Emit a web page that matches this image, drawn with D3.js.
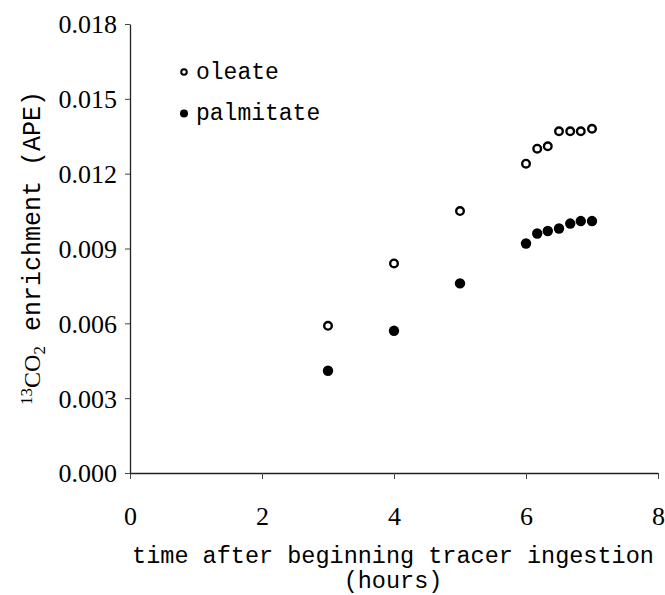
<!DOCTYPE html>
<html>
<head>
<meta charset="utf-8">
<script src="https://cdn.jsdelivr.net/npm/d3@7"></script>
<style>
  body { margin: 0; background: #fff; }
</style>
</head>
<body>
<div id="chart"></div>
<script>
// hours after beginning tracer ingestion
const hours = [3, 4, 5, 6, 6.17, 6.33, 6.5, 6.67, 6.83, 7];
// 13CO2 enrichment (APE)
const oleate    = [0.0059, 0.0084, 0.0105, 0.0124, 0.0130, 0.0131, 0.0137, 0.0137, 0.0137, 0.0138];
const palmitate = [0.0041, 0.0057, 0.0076, 0.0092, 0.0096, 0.0097, 0.0098, 0.0100, 0.0101, 0.0101];
const seriesNames = ["oleate", "palmitate"];
const xTicks = [0, 2, 4, 6, 8];
const yTicks = [0, 0.003, 0.006, 0.009, 0.012, 0.015, 0.018];

const W = 665, H = 595;
const margin = { top: 24, right: 7, bottom: 122, left: 130 };
const width = W - margin.left - margin.right,
      height = H - margin.top - margin.bottom;

const svg = d3.select("#chart").append("svg")
    .attr("width", W)
    .attr("height", H);

const g = svg.append("g")
    .attr("transform", `translate(${margin.left},${margin.top})`);

const x = d3.scaleLinear().domain([0, 8]).range([0, width]);
const y = d3.scaleLinear().domain([0, 0.018]).range([height, 0]);

const serif = "'Liberation Serif', 'Times New Roman', 'DejaVu Serif', serif";
const mono = "'Liberation Mono', 'Courier New', monospace";

// axes
const xAxis = g.append("g")
    .attr("transform", `translate(0,${height})`)
    .call(d3.axisBottom(x).tickValues(xTicks).tickSize(6).tickPadding(28).tickSizeOuter(0));
const yAxis = g.append("g")
    .call(d3.axisLeft(y).tickValues(yTicks).tickFormat(d3.format(".3f")).tickSize(5).tickPadding(8).tickSizeOuter(0));

[xAxis, yAxis].forEach(a => {
    a.attr("font-family", null).attr("font-size", null);
    a.select(".domain").attr("stroke", "#222").attr("stroke-width", 1.3);
    a.selectAll(".tick line").attr("stroke", "#444").attr("stroke-width", 1);
    a.selectAll(".tick text")
        .style("font-family", serif)
        .style("font-size", "26px")
        .attr("fill", "#000");
});
xAxis.selectAll(".tick text").attr("dy", "0.7em");
yAxis.selectAll(".tick text").attr("dy", "0.34em");

// data points
const rows = hours.map((h, i) => ({ h, oleate: oleate[i], palmitate: palmitate[i] }));

g.selectAll("circle.palm")
    .data(rows)
    .enter().append("circle")
    .attr("class", "palm")
    .attr("cx", d => x(d.h))
    .attr("cy", d => y(d.palmitate))
    .attr("r", 5.2)
    .attr("fill", "#000");

g.selectAll("circle.ole")
    .data(rows)
    .enter().append("circle")
    .attr("class", "ole")
    .attr("cx", d => x(d.h))
    .attr("cy", d => y(d.oleate))
    .attr("r", 3.8)
    .attr("fill", "#fff")
    .attr("stroke", "#000")
    .attr("stroke-width", 2.4);

// legend
const legend = svg.append("g").attr("transform", "translate(184,72)");
seriesNames.forEach((name, i) => {
    const row = legend.append("g").attr("transform", `translate(0,${i * 41.5})`);
    row.append("circle")
        .attr("r", i === 0 ? 2.8 : 4)
        .attr("fill", i === 0 ? "#fff" : "#000")
        .attr("stroke", "#000")
        .attr("stroke-width", i === 0 ? 2 : 0);
    row.append("text")
        .attr("x", 12)
        .attr("y", 6.5)
        .style("font-family", mono)
        .style("font-size", "23px")
        .text(name);
});

// x axis title
const xTitle = svg.append("text")
    .attr("text-anchor", "middle")
    .style("font-family", mono)
    .style("font-size", "23.5px")
    .attr("fill", "#000");
xTitle.append("tspan").attr("x", margin.left + width / 2 - 1).attr("y", 563)
    .text("time after beginning tracer ingestion");
xTitle.append("tspan").attr("x", margin.left + width / 2 - 1).attr("y", 588)
    .text("(hours)");

// y axis title
const yTitle = svg.append("text")
    .attr("transform", "translate(40,248) rotate(-90)")
    .attr("text-anchor", "middle")
    .attr("fill", "#000");
yTitle.append("tspan").style("font-family", serif).style("font-size", "17px")
    .attr("dy", "-0.45em").text("13");
yTitle.append("tspan").style("font-family", serif).style("font-size", "24px")
    .attr("dy", "0.32em").text("CO");
yTitle.append("tspan").style("font-family", serif).style("font-size", "17px")
    .attr("dy", "0.3em").text("2");
yTitle.append("tspan").style("font-family", mono).style("font-size", "25px")
    .attr("dy", "-0.2em").text(" enrichment (APE)");
</script>
</body>
</html>
